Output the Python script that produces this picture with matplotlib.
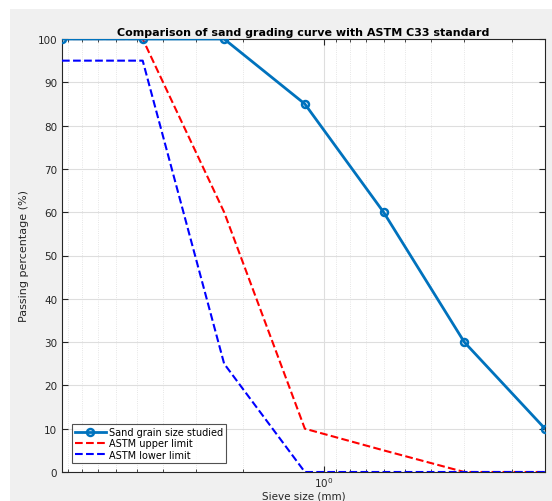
import matplotlib.pyplot as plt
from matplotlib.patches import Rectangle
from matplotlib.ticker import LogLocator, NullFormatter, FixedLocator

sieve_mm = [9.5, 4.75, 2.36, 1.18, 0.6, 0.3, 0.15]
sand_passing = [100, 100, 100, 85, 60, 30, 10]
astm_upper = [100, 100, 60, 10, 5, 0, 0]
astm_lower = [95, 95, 25, 0, 0, 0, 0]

fig = plt.figure(figsize=(5.52, 5.02), dpi=100)
fig.patch.set_facecolor('white')
# matlab style grey window area
fig.patches.append(Rectangle((10 / 552, 0), 1.1, 1 - 10 / 502, transform=fig.transFigure,
                             facecolor='#f0f0f0', edgecolor='none', zorder=-10))

ax = fig.add_axes([62 / 552, 29 / 502, 483 / 552, 433 / 502])
ax.set_facecolor('white')

ax.plot(sieve_mm, sand_passing, '-o', color='#0072BD', lw=2, ms=5, mfc='none',
        mew=1.8, label='Sand grain size studied', zorder=5)
ax.plot(sieve_mm, astm_upper, '--', color='#ff0000', lw=1.5, label='ASTM upper limit', zorder=4)
ax.plot(sieve_mm, astm_lower, '--', color='#0000ff', lw=1.5, label='ASTM lower limit', zorder=4)

ax.set_xscale('log')
ax.set_xlim(9.5, 0.15)
ax.set_ylim(0, 100)
ax.set_yticks(range(0, 101, 10))
ax.xaxis.set_major_locator(FixedLocator([1]))
ax.xaxis.set_major_formatter(plt.FuncFormatter(lambda v, p: r'$10^0$'))
ax.xaxis.set_minor_locator(LogLocator(base=10, subs=range(2, 10), numticks=10))
ax.xaxis.set_minor_formatter(NullFormatter())

ax.grid(True, which='major', color='#dedede', lw=0.8)
ax.grid(True, which='minor', axis='x', color='#dedede', lw=0.6, ls=':')
ax.set_axisbelow(True)

ax.tick_params(which='both', direction='in', colors='#262626', labelsize=7.5, top=True, right=True)
ax.tick_params(which='minor', length=2.5)
ax.tick_params(which='major', length=4)
ax.tick_params(axis='x', pad=2)
for s in ax.spines.values():
    s.set_color('#262626')
    s.set_linewidth(0.8)

ax.set_title('Comparison of sand grading curve with ASTM C33 standard', fontsize=8,
             fontweight='bold', color='black', pad=3)
ax.set_ylabel('Passing percentage (%)', fontsize=8, color='#262626', labelpad=6)
ax.set_xlabel('Sieve size (mm)', fontsize=7.5, color='#262626')
ax.xaxis.set_label_coords(0.5, -0.042)

leg = ax.legend(loc='lower left', fontsize=7, frameon=True, fancybox=False,
                borderpad=0.3, labelspacing=0.15, handlelength=3.2, handletextpad=0.3,
                bbox_to_anchor=(0.01, 0.01))
leg.get_frame().set_edgecolor('#262626')
leg.get_frame().set_linewidth(0.8)

fig.savefig('out.png', dpi=100, facecolor=fig.get_facecolor())
